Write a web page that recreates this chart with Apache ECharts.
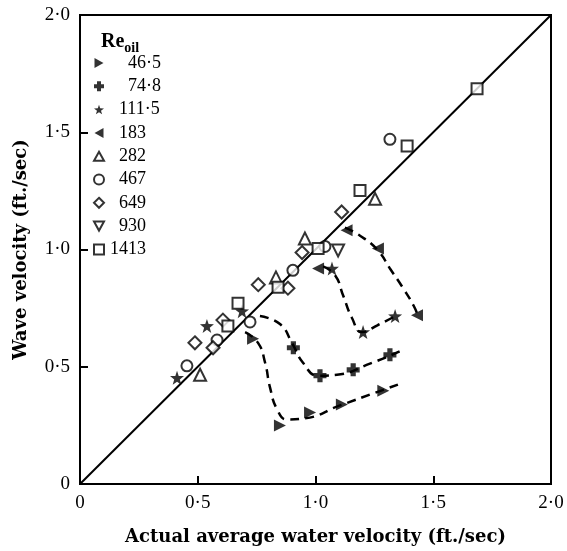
<!DOCTYPE html>
<html>
<head>
<meta charset="utf-8">
<script src="https://cdn.jsdelivr.net/npm/echarts@6/dist/echarts.min.js"></script>
<style>
  html, body { margin: 0; padding: 0; background: #fff; }
  #chart { width: 567px; height: 551px; }
</style>
</head>
<body>
<div id="chart"></div>
<script>
// Re_oil groups: [actual water velocity, wave velocity]
var re465 = [[0.735, 0.619], [0.849, 0.250], [0.977, 0.305], [1.112, 0.339], [1.288, 0.398]];
var re748 = [[0.906, 0.581], [1.019, 0.462], [1.160, 0.487], [1.316, 0.551]];
var re1115 = [[0.412, 0.453], [0.539, 0.674], [0.688, 0.737], [1.070, 0.919], [1.202, 0.648], [1.338, 0.716]];
var re183 = [[1.011, 0.919], [1.132, 1.082], [1.265, 1.004], [1.431, 0.720]];
var re282 = [[0.510, 0.466], [0.832, 0.881], [0.955, 1.047], [1.253, 1.216]];
var re467 = [[0.454, 0.504], [0.582, 0.614], [0.722, 0.691], [0.904, 0.911], [1.040, 1.013], [1.316, 1.470]];
var re649 = [[0.488, 0.602], [0.565, 0.581], [0.607, 0.699], [0.757, 0.850], [0.883, 0.835], [0.943, 0.987], [1.111, 1.160]];
var re930 = [[1.096, 0.996]];
var re1413 = [[0.628, 0.674], [0.671, 0.771], [0.841, 0.839], [1.011, 1.004], [1.189, 1.252], [1.389, 1.441], [1.686, 1.686]];

// hand drawn dashed curves
var curve465 = [[0.701, 0.648], [0.756, 0.602], [0.786, 0.517], [0.807, 0.411], [0.837, 0.318], [0.879, 0.275], [0.955, 0.280], [1.104, 0.335], [1.350, 0.424]];
var curve748 = [[0.764, 0.716], [0.849, 0.682], [0.900, 0.602], [0.947, 0.517], [1.011, 0.462], [1.091, 0.466], [1.231, 0.513], [1.372, 0.572]];
var curve1115 = [[1.032, 0.928], [1.083, 0.890], [1.117, 0.805], [1.155, 0.708], [1.197, 0.648], [1.265, 0.678], [1.346, 0.720]];
var curve183 = [[1.125, 1.093], [1.189, 1.059], [1.265, 0.996], [1.316, 0.919], [1.372, 0.835], [1.418, 0.758], [1.435, 0.716]];

var diagonal = [[0, 0], [2, 2]];
var names = ['46·5', '74·8', '111·5', '183', '282', '467', '649', '930', '1413'];

var starPath = 'path://M5,0L6.2,3.5L10,3.6L7,5.9L8.1,9.5L5,7.4L1.9,9.5L3,5.9L0,3.6L3.8,3.5Z';
var crossPath = 'path://M3,0H7V3H10V7H7V10H3V7H0V3H3Z';
var triUp = 'path://M5,0L10,9L0,9Z';
var triDown = 'path://M0,0L10,0L5,9Z';
var triRight = 'path://M0,0L9,5L0,10Z';
var triLeft = 'path://M9,0L0,5L9,10Z';

var serif = '"Liberation Serif", "DejaVu Serif", serif';
var boldSerif = '"DejaVu Serif", "Liberation Serif", serif';

function tickLabel(v) {
  if (v === 0) return '0';
  return v.toFixed(1).replace('.', '·');
}

function filled(name, data, symbol, size) {
  return {
    name: name, type: 'scatter', data: data, symbol: symbol,
    symbolSize: size || 12,
    itemStyle: { color: '#000' }, z: 5
  };
}
function open(name, data, symbol, size) {
  return {
    name: name, type: 'scatter', data: data, symbol: symbol,
    symbolSize: size || 11,
    itemStyle: { color: '#fff', borderColor: '#000', borderWidth: 2 }, z: 6
  };
}
function dashed(data) {
  return {
    type: 'line', data: data, smooth: 0.5, showSymbol: false, silent: true,
    lineStyle: { color: '#000', width: 2.5, type: [9, 6] }, z: 3
  };
}

var chart = echarts.init(document.getElementById('chart'));
var option = {
  animation: false,
  backgroundColor: '#fff',
  title: {
    text: '{a|Re}{b|oil}',
    left: 96, top: 27,
    textStyle: {
      rich: {
        a: { fontFamily: serif, fontSize: 20, color: '#000', verticalAlign: 'top', lineHeight: 22 },
        b: { fontFamily: serif, fontSize: 14, color: '#000', verticalAlign: 'top', lineHeight: 22, padding: [9, 0, 0, 0] }
      }
    }
  },
  legend: {
    orient: 'vertical', left: 88, top: 49,
    itemWidth: 10, itemHeight: 10, itemGap: 5.3,
    data: names,
    formatter: function (name) {
      var p = name.split('·');
      var style = 'i' + p[0].length;
      return '{' + style + '|' + p[0] + '}' + (p[1] ? '{d|·' + p[1] + '}' : '');
    },
    textStyle: {
      rich: {
        i2: { fontFamily: serif, fontSize: 18, color: '#000', lineHeight: 20, padding: [0, 0, 0, 19] },
        i3: { fontFamily: serif, fontSize: 18, color: '#000', lineHeight: 20, padding: [0, 0, 0, 10] },
        i4: { fontFamily: serif, fontSize: 18, color: '#000', lineHeight: 20, padding: [0, 0, 0, 1] },
        d: { fontFamily: serif, fontSize: 18, color: '#000', lineHeight: 20 }
      }
    }
  },
  grid: {
    left: 80, right: 16, top: 15, bottom: 64,
    show: true, borderColor: '#000', borderWidth: 2
  },
  xAxis: {
    type: 'value', min: 0, max: 2, interval: 0.5,
    name: 'Actual average water velocity (ft./sec)',
    nameLocation: 'middle', nameGap: 44,
    nameTextStyle: { fontFamily: boldSerif, fontSize: 18, fontWeight: 'bold', color: '#000' },
    axisLine: { lineStyle: { color: '#000', width: 2 } },
    axisTick: { inside: true, length: 8, lineStyle: { color: '#000', width: 2 } },
    axisLabel: { formatter: tickLabel, fontFamily: serif, fontSize: 19, color: '#000', margin: 10 },
    splitLine: { show: false }
  },
  yAxis: {
    type: 'value', min: 0, max: 2, interval: 0.5,
    name: 'Wave velocity (ft./sec)',
    nameLocation: 'middle', nameGap: 50, nameRotate: 90,
    nameTextStyle: { fontFamily: boldSerif, fontSize: 18, fontWeight: 'bold', color: '#000' },
    axisLine: { lineStyle: { color: '#000', width: 2 } },
    axisTick: { inside: true, length: 8, lineStyle: { color: '#000', width: 2 } },
    axisLabel: { formatter: tickLabel, fontFamily: serif, fontSize: 19, color: '#000', margin: 10 },
    splitLine: { show: false }
  },
  series: [
    { type: 'line', data: diagonal, showSymbol: false, silent: true,
      lineStyle: { color: '#000', width: 2 }, z: 2 },
    dashed(curve465),
    dashed(curve748),
    dashed(curve1115),
    dashed(curve183),
    filled(names[0], re465, triRight, 12),
    filled(names[1], re748, crossPath, 13),
    filled(names[2], re1115, starPath, 14),
    filled(names[3], re183, triLeft, 12),
    open(names[4], re282, triUp, 12),
    open(names[5], re467, 'circle', 11),
    open(names[6], re649, 'diamond', 13),
    open(names[7], re930, triDown, 12),
    open(names[8], re1413, 'rect', 11)
  ]
};
chart.setOption(option);
</script>
</body>
</html>
